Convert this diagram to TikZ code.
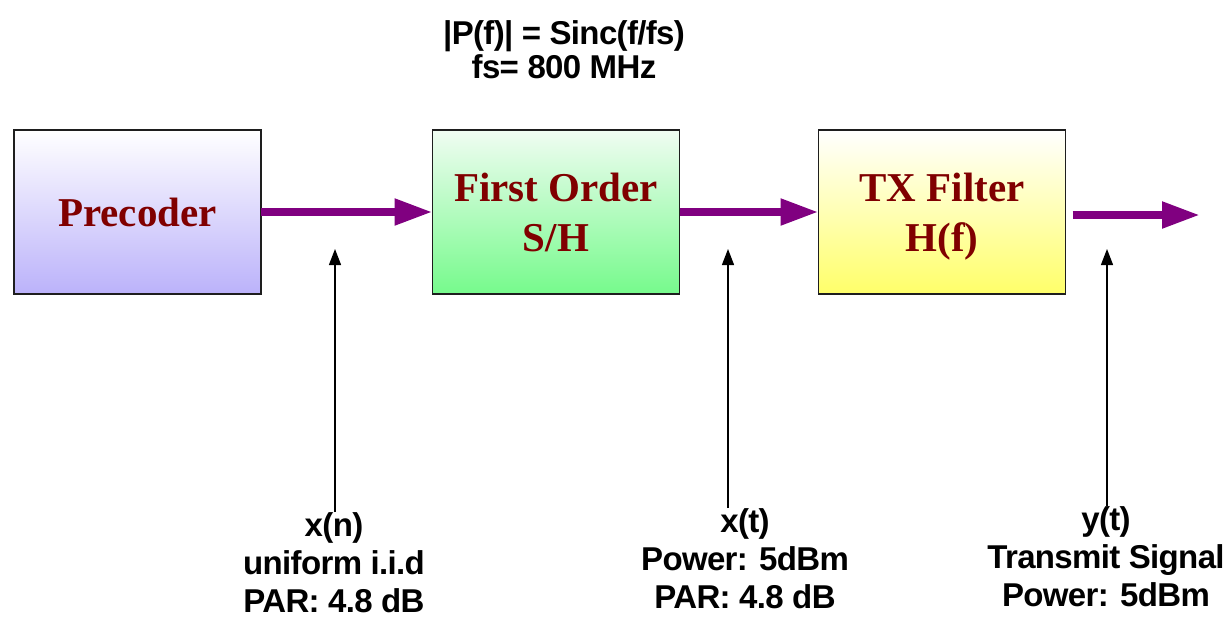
\documentclass[tikz,border=0pt]{standalone}
\usepackage{fontspec}
\setmainfont{Liberation Sans}
\newfontfamily\serifbold{Liberation Serif}[BoldFont={Liberation Serif Bold}]
\newfontfamily\lblfont{Liberation Sans Bold}[LetterSpace=-2]
\usetikzlibrary{arrows.meta}
\definecolor{sigpurple}{RGB}{128,0,128}
\definecolor{boxred}{RGB}{128,0,0}
\definecolor{preC}{RGB}{187,178,250}
\definecolor{shC}{RGB}{118,250,140}
\definecolor{shT}{RGB}{240,252,242}
\definecolor{txC}{RGB}{255,255,105}
\definecolor{edgeC}{RGB}{30,30,30}
\begin{document}
\begin{tikzpicture}[x=1pt,y=-1pt,
  blk/.style={draw=edgeC, line width=1.2pt, minimum width=247pt, minimum height=164pt,
    inner sep=0pt, outer sep=0pt, align=center, text=boxred, text depth=0pt,
    font=\serifbold\bfseries\fontsize{41}{50}\selectfont},
  bigarrow/.style={draw=sigpurple, line width=8pt, -{Triangle[length=38pt,width=25pt]}},
  thinarrow/.style={draw=black, line width=1.3pt, -{Triangle[length=16pt,width=12pt]}},
  lbl/.style={align=center, anchor=north, inner sep=0pt, font=\lblfont\fontsize{33}{38}\selectfont},
  toplbl/.style={align=center, anchor=north, inner sep=0pt, font=\lblfont\fontsize{33}{34}\selectfont}
]
\useasboundingbox (0,0) rectangle (1228,625);

\node[blk, top color=white, bottom color=preC] (pre) at (137.5,212) {Precoder};
\node[blk, top color=shT, bottom color=shC] (sh) at (556,212) {First Order\\S/H};
\node[blk, top color=white, bottom color=txC] (tx) at (942,212) {TX Filter\\H(f)};

\node[toplbl] (sinc) at (564,20) {|P(f)| = Sinc(f/fs)\\fs= 800 MHz};

\coordinate (out) at (1200,215);
\draw[bigarrow] (pre.east) -- (sh.west);
\draw[bigarrow] (sh.east) -- (tx.west);
\draw[bigarrow] ([shift={(7,3)}]tx.east) -- (out);

\coordinate (c1) at (335,249);
\coordinate (c2) at (728,249);
\coordinate (c3) at (1107,249);

\node[lbl] (lxn) at (334,512) {x(n)\\uniform i.i.d\\PAR: 4.8 dB};
\node[lbl] (lxt) at (745,508) {x(t)\\Power: 5dBm\\PAR: 4.8 dB};
\node[lbl] (lyt) at (1106,506) {y(t)\\Transmit Signal\\Power: 5dBm};

\draw[thinarrow] (c1 |- lxn.north) -- (c1);
\draw[thinarrow] (c2 |- lxt.north) -- (c2);
\draw[thinarrow] (c3 |- lyt.north) -- (c3);
\end{tikzpicture}
\end{document}
